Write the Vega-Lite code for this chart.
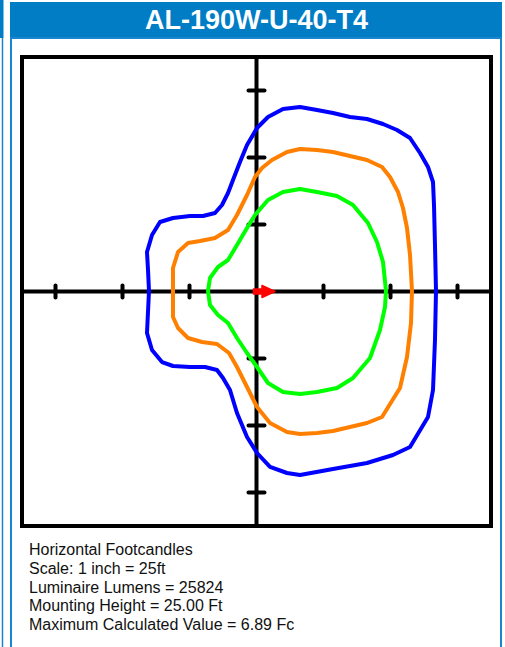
{
  "$schema": "https://vega.github.io/schema/vega-lite/v6.json",
  "width": 469,
  "height": 469,
  "autosize": {"type": "none"},
  "padding": {"left": 22, "top": 57, "right": 14, "bottom": 121},
  "background": "white",
  "config": {"view": {"stroke": null}},
  "data": {"values": [{}]},
  "datasets": {
    "contours": [
      {"contour": "outer", "i": 1, "x": -40.11, "y": 0.19},
      {"contour": "outer", "i": 2, "x": -40.48, "y": 8.02},
      {"contour": "outer", "i": 3, "x": -40.86, "y": 14.74},
      {"contour": "outer", "i": 4, "x": -38.99, "y": 21.08},
      {"contour": "outer", "i": 5, "x": -36.01, "y": 25.93},
      {"contour": "outer", "i": 6, "x": -31.16, "y": 27.43},
      {"contour": "outer", "i": 7, "x": -24.81, "y": 28.17},
      {"contour": "outer", "i": 8, "x": -19.96, "y": 28.17},
      {"contour": "outer", "i": 9, "x": -15.49, "y": 29.29},
      {"contour": "outer", "i": 10, "x": -12.87, "y": 32.28},
      {"contour": "outer", "i": 11, "x": -10.63, "y": 36.75},
      {"contour": "outer", "i": 12, "x": -8.77, "y": 41.6},
      {"contour": "outer", "i": 13, "x": -6.16, "y": 48.32},
      {"contour": "outer", "i": 14, "x": -3.54, "y": 54.66},
      {"contour": "outer", "i": 15, "x": 0.19, "y": 61.01},
      {"contour": "outer", "i": 16, "x": 4.29, "y": 65.11},
      {"contour": "outer", "i": 17, "x": 9.89, "y": 68.1},
      {"contour": "outer", "i": 18, "x": 16.23, "y": 68.84},
      {"contour": "outer", "i": 19, "x": 22.57, "y": 67.72},
      {"contour": "outer", "i": 20, "x": 28.54, "y": 66.6},
      {"contour": "outer", "i": 21, "x": 34.89, "y": 65.11},
      {"contour": "outer", "i": 22, "x": 41.23, "y": 64.37},
      {"contour": "outer", "i": 23, "x": 47.2, "y": 62.5},
      {"contour": "outer", "i": 24, "x": 52.43, "y": 60.26},
      {"contour": "outer", "i": 25, "x": 57.28, "y": 57.28},
      {"contour": "outer", "i": 26, "x": 61.01, "y": 51.68},
      {"contour": "outer", "i": 27, "x": 63.99, "y": 46.46},
      {"contour": "outer", "i": 28, "x": 65.86, "y": 40.86},
      {"contour": "outer", "i": 29, "x": 66.23, "y": 32.28},
      {"contour": "outer", "i": 30, "x": 66.6, "y": 17.35},
      {"contour": "outer", "i": 31, "x": 66.98, "y": 0.19},
      {"contour": "outer", "i": 32, "x": 66.6, "y": -18.1},
      {"contour": "outer", "i": 33, "x": 65.86, "y": -36.75},
      {"contour": "outer", "i": 34, "x": 63.99, "y": -46.83},
      {"contour": "outer", "i": 35, "x": 57.28, "y": -58.02},
      {"contour": "outer", "i": 36, "x": 50.93, "y": -61.01},
      {"contour": "outer", "i": 37, "x": 41.23, "y": -63.99},
      {"contour": "outer", "i": 38, "x": 28.54, "y": -66.23},
      {"contour": "outer", "i": 39, "x": 16.23, "y": -68.47},
      {"contour": "outer", "i": 40, "x": 11.38, "y": -67.72},
      {"contour": "outer", "i": 41, "x": 5.04, "y": -65.48},
      {"contour": "outer", "i": 42, "x": 0.19, "y": -60.26},
      {"contour": "outer", "i": 43, "x": -3.54, "y": -54.29},
      {"contour": "outer", "i": 44, "x": -7.28, "y": -45.34},
      {"contour": "outer", "i": 45, "x": -9.89, "y": -36.75},
      {"contour": "outer", "i": 46, "x": -12.5, "y": -32.28},
      {"contour": "outer", "i": 47, "x": -14.74, "y": -29.29},
      {"contour": "outer", "i": 48, "x": -19.22, "y": -28.17},
      {"contour": "outer", "i": 49, "x": -24.81, "y": -28.17},
      {"contour": "outer", "i": 50, "x": -31.16, "y": -27.8},
      {"contour": "outer", "i": 51, "x": -35.26, "y": -26.31},
      {"contour": "outer", "i": 52, "x": -38.99, "y": -21.83},
      {"contour": "outer", "i": 53, "x": -40.86, "y": -15.49},
      {"contour": "outer", "i": 54, "x": -40.11, "y": 0.19},
      {"contour": "middle", "i": 1, "x": -31.16, "y": 0.19},
      {"contour": "middle", "i": 2, "x": -31.16, "y": 8.77},
      {"contour": "middle", "i": 3, "x": -29.29, "y": 14.74},
      {"contour": "middle", "i": 4, "x": -25.56, "y": 18.1},
      {"contour": "middle", "i": 5, "x": -21.08, "y": 18.84},
      {"contour": "middle", "i": 6, "x": -15.49, "y": 19.96},
      {"contour": "middle", "i": 7, "x": -10.63, "y": 22.95},
      {"contour": "middle", "i": 8, "x": -7.28, "y": 28.54},
      {"contour": "middle", "i": 9, "x": -3.54, "y": 36.01},
      {"contour": "middle", "i": 10, "x": -0.56, "y": 42.72},
      {"contour": "middle", "i": 11, "x": 2.05, "y": 46.08},
      {"contour": "middle", "i": 12, "x": 5.78, "y": 49.07},
      {"contour": "middle", "i": 13, "x": 11.38, "y": 52.05},
      {"contour": "middle", "i": 14, "x": 16.23, "y": 53.17},
      {"contour": "middle", "i": 15, "x": 22.57, "y": 52.8},
      {"contour": "middle", "i": 16, "x": 28.54, "y": 52.05},
      {"contour": "middle", "i": 17, "x": 34.89, "y": 50.56},
      {"contour": "middle", "i": 18, "x": 41.23, "y": 49.07},
      {"contour": "middle", "i": 19, "x": 46.83, "y": 46.46},
      {"contour": "middle", "i": 20, "x": 49.81, "y": 42.72},
      {"contour": "middle", "i": 21, "x": 52.8, "y": 37.13},
      {"contour": "middle", "i": 22, "x": 54.66, "y": 31.16},
      {"contour": "middle", "i": 23, "x": 56.16, "y": 23.69},
      {"contour": "middle", "i": 24, "x": 57.28, "y": 13.62},
      {"contour": "middle", "i": 25, "x": 58.02, "y": 0.19},
      {"contour": "middle", "i": 26, "x": 57.65, "y": -11.75},
      {"contour": "middle", "i": 27, "x": 56.16, "y": -24.44},
      {"contour": "middle", "i": 28, "x": 53.54, "y": -36.01},
      {"contour": "middle", "i": 29, "x": 46.83, "y": -46.83},
      {"contour": "middle", "i": 30, "x": 41.23, "y": -49.07},
      {"contour": "middle", "i": 31, "x": 34.89, "y": -50.56},
      {"contour": "middle", "i": 32, "x": 28.54, "y": -52.05},
      {"contour": "middle", "i": 33, "x": 22.57, "y": -52.8},
      {"contour": "middle", "i": 34, "x": 16.23, "y": -53.17},
      {"contour": "middle", "i": 35, "x": 11.38, "y": -52.43},
      {"contour": "middle", "i": 36, "x": 5.04, "y": -49.07},
      {"contour": "middle", "i": 37, "x": 0.19, "y": -43.1},
      {"contour": "middle", "i": 38, "x": -3.54, "y": -35.63},
      {"contour": "middle", "i": 39, "x": -7.28, "y": -28.17},
      {"contour": "middle", "i": 40, "x": -10.26, "y": -22.95},
      {"contour": "middle", "i": 41, "x": -14.74, "y": -19.59},
      {"contour": "middle", "i": 42, "x": -20.34, "y": -18.84},
      {"contour": "middle", "i": 43, "x": -25.56, "y": -17.35},
      {"contour": "middle", "i": 44, "x": -29.29, "y": -13.62},
      {"contour": "middle", "i": 45, "x": -31.16, "y": -9.51},
      {"contour": "middle", "i": 46, "x": -31.16, "y": 0.19},
      {"contour": "inner", "i": 1, "x": -18.1, "y": 0.19},
      {"contour": "inner", "i": 2, "x": -17.35, "y": 5.04},
      {"contour": "inner", "i": 3, "x": -14.37, "y": 9.14},
      {"contour": "inner", "i": 4, "x": -10.63, "y": 11.75},
      {"contour": "inner", "i": 5, "x": -7.28, "y": 17.35},
      {"contour": "inner", "i": 6, "x": -3.54, "y": 23.69},
      {"contour": "inner", "i": 7, "x": -0.56, "y": 28.54},
      {"contour": "inner", "i": 8, "x": 4.29, "y": 34.14},
      {"contour": "inner", "i": 9, "x": 9.89, "y": 37.13},
      {"contour": "inner", "i": 10, "x": 16.23, "y": 38.25},
      {"contour": "inner", "i": 11, "x": 22.57, "y": 37.13},
      {"contour": "inner", "i": 12, "x": 30.04, "y": 35.63},
      {"contour": "inner", "i": 13, "x": 36.01, "y": 32.28},
      {"contour": "inner", "i": 14, "x": 41.6, "y": 25.56},
      {"contour": "inner", "i": 15, "x": 44.96, "y": 18.47},
      {"contour": "inner", "i": 16, "x": 47.2, "y": 11.01},
      {"contour": "inner", "i": 17, "x": 48.32, "y": 0.19},
      {"contour": "inner", "i": 18, "x": 47.95, "y": -5.78},
      {"contour": "inner", "i": 19, "x": 46.08, "y": -14.37},
      {"contour": "inner", "i": 20, "x": 42.35, "y": -24.81},
      {"contour": "inner", "i": 21, "x": 36.01, "y": -32.28},
      {"contour": "inner", "i": 22, "x": 30.04, "y": -36.01},
      {"contour": "inner", "i": 23, "x": 22.57, "y": -37.5},
      {"contour": "inner", "i": 24, "x": 16.23, "y": -38.25},
      {"contour": "inner", "i": 25, "x": 9.89, "y": -37.5},
      {"contour": "inner", "i": 26, "x": 4.29, "y": -34.14},
      {"contour": "inner", "i": 27, "x": 0.19, "y": -28.17},
      {"contour": "inner", "i": 28, "x": -3.54, "y": -22.95},
      {"contour": "inner", "i": 29, "x": -7.28, "y": -17.35},
      {"contour": "inner", "i": 30, "x": -10.63, "y": -11.75},
      {"contour": "inner", "i": 31, "x": -14.37, "y": -8.77},
      {"contour": "inner", "i": 32, "x": -17.35, "y": -5.04},
      {"contour": "inner", "i": 33, "x": -18.1, "y": 0.19}
    ],
    "ticks": [
      {"pos": -75}, {"pos": -50}, {"pos": -25}, {"pos": 25}, {"pos": 50}, {"pos": 75}
    ]
  },
  "layer": [
    {
      "mark": {"type": "rect", "fill": "#007DC5"},
      "encoding": {
        "x": {"datum": -91.98, "type": "quantitative", "scale": {"domain": [-87.5, 87.5], "nice": false, "zero": false}, "axis": null},
        "x2": {"datum": 91.6},
        "y": {"datum": 108.02, "type": "quantitative", "scale": {"domain": [-87.5, 87.5], "nice": false, "zero": false}, "axis": null},
        "y2": {"datum": 94.59}
      }
    },
    {
      "mark": {"type": "rect", "fill": null, "stroke": "#1A86D0", "strokeWidth": 2},
      "encoding": {
        "x": {"datum": -91.6, "type": "quantitative", "scale": {"domain": [-87.5, 87.5], "nice": false, "zero": false}, "axis": null},
        "x2": {"datum": 91.23},
        "y": {"datum": 94.59, "type": "quantitative", "scale": {"domain": [-87.5, 87.5], "nice": false, "zero": false}, "axis": null},
        "y2": {"datum": -152.4}
      }
    },
    {
      "mark": {"type": "rect", "fill": "#007DC5"},
      "encoding": {
        "x": {"datum": -96.5, "type": "quantitative", "scale": {"domain": [-87.5, 87.5], "nice": false, "zero": false}, "axis": null},
        "x2": {"datum": -94.4},
        "y": {"datum": 108.77, "type": "quantitative", "scale": {"domain": [-87.5, 87.5], "nice": false, "zero": false}, "axis": null},
        "y2": {"datum": 94.59}
      }
    },
    {
      "mark": {"type": "rule", "stroke": "#1A86D0", "strokeWidth": 1.5},
      "encoding": {
        "x": {"datum": -94.78, "type": "quantitative", "scale": {"domain": [-87.5, 87.5], "nice": false, "zero": false}, "axis": null},
        "y": {"datum": 94.59, "type": "quantitative", "scale": {"domain": [-87.5, 87.5], "nice": false, "zero": false}, "axis": null},
        "y2": {"datum": -152.4}
      }
    },
    {
      "mark": {"type": "rect", "fill": null, "stroke": "black", "strokeWidth": 4},
      "encoding": {
        "x": {"datum": -87.5, "type": "quantitative", "scale": {"domain": [-87.5, 87.5], "nice": false, "zero": false}, "axis": null},
        "x2": {"datum": 87.5},
        "y": {"datum": 87.5, "type": "quantitative", "scale": {"domain": [-87.5, 87.5], "nice": false, "zero": false}, "axis": null},
        "y2": {"datum": -87.5}
      }
    },
    {
      "mark": {"type": "rule", "stroke": "black", "strokeWidth": 4},
      "encoding": {
        "x": {"datum": -87.5, "type": "quantitative", "scale": {"domain": [-87.5, 87.5], "nice": false, "zero": false}, "axis": null},
        "x2": {"datum": 87.5},
        "y": {"datum": 0, "type": "quantitative", "scale": {"domain": [-87.5, 87.5], "nice": false, "zero": false}, "axis": null}
      }
    },
    {
      "mark": {"type": "rule", "stroke": "black", "strokeWidth": 4},
      "encoding": {
        "x": {"datum": 0, "type": "quantitative", "scale": {"domain": [-87.5, 87.5], "nice": false, "zero": false}, "axis": null},
        "y": {"datum": -87.5, "type": "quantitative", "scale": {"domain": [-87.5, 87.5], "nice": false, "zero": false}, "axis": null},
        "y2": {"datum": 87.5}
      }
    },
    {
      "data": {"name": "ticks"},
      "mark": {"type": "tick", "orient": "vertical", "size": 16, "thickness": 4, "cornerRadius": 2, "color": "black", "opacity": 1},
      "encoding": {
        "x": {"field": "pos", "type": "quantitative", "scale": {"domain": [-87.5, 87.5], "nice": false, "zero": false}, "axis": null},
        "y": {"datum": 0, "type": "quantitative", "scale": {"domain": [-87.5, 87.5], "nice": false, "zero": false}, "axis": null}
      }
    },
    {
      "data": {"name": "ticks"},
      "mark": {"type": "tick", "orient": "horizontal", "size": 20, "thickness": 4, "cornerRadius": 2, "color": "black", "opacity": 1},
      "encoding": {
        "y": {"field": "pos", "type": "quantitative", "scale": {"domain": [-87.5, 87.5], "nice": false, "zero": false}, "axis": null},
        "x": {"datum": 0, "type": "quantitative", "scale": {"domain": [-87.5, 87.5], "nice": false, "zero": false}, "axis": null}
      }
    },
    {
      "data": {"name": "contours"},
      "mark": {"type": "line", "strokeWidth": 4, "strokeJoin": "round", "strokeCap": "round"},
      "encoding": {
        "x": {"field": "x", "type": "quantitative", "scale": {"domain": [-87.5, 87.5], "nice": false, "zero": false}, "axis": null},
        "y": {"field": "y", "type": "quantitative", "scale": {"domain": [-87.5, 87.5], "nice": false, "zero": false}, "axis": null},
        "order": {"field": "i", "type": "quantitative"},
        "color": {"field": "contour", "type": "nominal", "scale": {"domain": ["outer", "middle", "inner"], "range": ["#0000FF", "#FF8000", "#00FF00"]}, "legend": null}
      }
    },
    {
      "mark": {"type": "point", "shape": "M-0.3,-0.24L0.55,-0.24L0.55,-0.6L1.85,0L0.55,0.6L0.55,0.24L-0.3,0.24Z", "size": 400, "filled": true, "fill": "#FF0000", "stroke": "#FF0000", "strokeWidth": 1.5, "strokeJoin": "round", "opacity": 1},
      "encoding": {
        "x": {"datum": 0, "type": "quantitative", "scale": {"domain": [-87.5, 87.5], "nice": false, "zero": false}, "axis": null},
        "y": {"datum": 0, "type": "quantitative", "scale": {"domain": [-87.5, 87.5], "nice": false, "zero": false}, "axis": null}
      }
    },
    {
      "mark": {"type": "text", "font": "Liberation Sans", "fontWeight": "bold", "fontSize": 27, "fill": "white", "align": "center", "baseline": "alphabetic"},
      "encoding": {
        "x": {"datum": 0, "type": "quantitative", "scale": {"domain": [-87.5, 87.5], "nice": false, "zero": false}, "axis": null},
        "y": {"datum": 97.95, "type": "quantitative", "scale": {"domain": [-87.5, 87.5], "nice": false, "zero": false}, "axis": null},
        "text": {"value": "AL-190W-U-40-T4"}
      }
    },
    {
      "mark": {"type": "text", "font": "Liberation Sans", "fontSize": 16, "fill": "#111111", "align": "left", "baseline": "alphabetic", "lineHeight": 18.8},
      "encoding": {
        "x": {"datum": -84.89, "type": "quantitative", "scale": {"domain": [-87.5, 87.5], "nice": false, "zero": false}, "axis": null},
        "y": {"datum": -98.32, "type": "quantitative", "scale": {"domain": [-87.5, 87.5], "nice": false, "zero": false}, "axis": null},
        "text": {"value": ["Horizontal Footcandles", "Scale: 1 inch = 25ft", "Luminaire Lumens = 25824", "Mounting Height = 25.00 Ft", "Maximum Calculated Value = 6.89 Fc"]}
      }
    }
  ]
}
